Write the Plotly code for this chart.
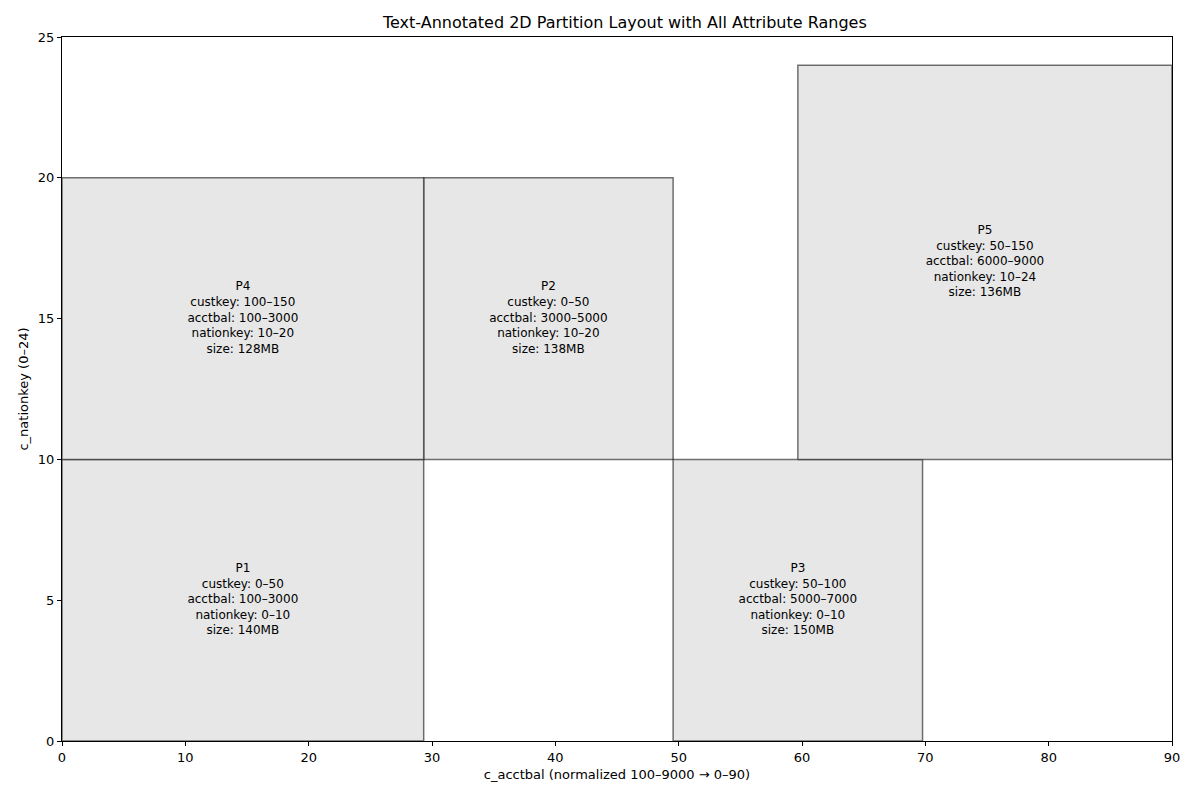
import plotly.graph_objects as go

# partition data
names = ["P1", "P2", "P3", "P4", "P5"]
custkey = ["0–50", "0–50", "50–100", "100–150", "50–150"]
acctbal_lo = [100, 3000, 5000, 100, 6000]
acctbal_hi = [3000, 5000, 7000, 3000, 9000]
nation_lo = [0, 10, 0, 10, 10]
nation_hi = [10, 20, 10, 20, 24]
sizes = ["140MB", "138MB", "150MB", "128MB", "136MB"]


def norm(v):
    return (v - 100) / (9000 - 100) * 90


fig = go.Figure()
for i in range(len(names)):
    x0, x1 = norm(acctbal_lo[i]), norm(acctbal_hi[i])
    y0, y1 = nation_lo[i], nation_hi[i]
    fig.add_trace(go.Scatter(
        x=[x0, x1, x1, x0, x0], y=[y0, y0, y1, y1, y0],
        mode="lines", fill="toself", fillcolor="rgba(231,231,231,1)",
        line=dict(color="rgba(0,0,0,0.55)", width=1.5),
        hoverinfo="skip", showlegend=False,
    ))
    label = (f"{names[i]}<br>custkey: {custkey[i]}<br>acctbal: {acctbal_lo[i]}–{acctbal_hi[i]}"
             f"<br>nationkey: {nation_lo[i]}–{nation_hi[i]}<br>size: {sizes[i]}")
    fig.add_trace(go.Scatter(
        x=[(x0 + x1) / 2], y=[(y0 + y1) / 2], mode="text", text=[label],
        textfont=dict(size=12, color="black"), showlegend=False, hoverinfo="skip",
    ))

axis = dict(showgrid=False, zeroline=False, showline=True, linecolor="black",
            mirror=True, ticks="outside", ticklen=4, tickcolor="black",
            tickfont=dict(size=13, color="black"))
fig.update_layout(
    width=1184, height=784,
    plot_bgcolor="white", paper_bgcolor="white",
    font=dict(family="DejaVu Sans", color="black"),
    title=dict(text="Text-Annotated 2D Partition Layout with All Attribute Ranges",
               x=0.521, xanchor="center", y=0.981, yanchor="middle", font=dict(size=16)),
    margin=dict(l=54, r=16, t=29, b=50),
    xaxis=dict(axis, range=[0, 90], dtick=10,
               title=dict(text="c_acctbal (normalized 100–9000 → 0–90)", font=dict(size=13), standoff=6)),
    yaxis=dict(axis, range=[0, 25], dtick=5,
               title=dict(text="c_nationkey (0–24)", font=dict(size=13), standoff=6)),
)
fig.write_html("out.html")
